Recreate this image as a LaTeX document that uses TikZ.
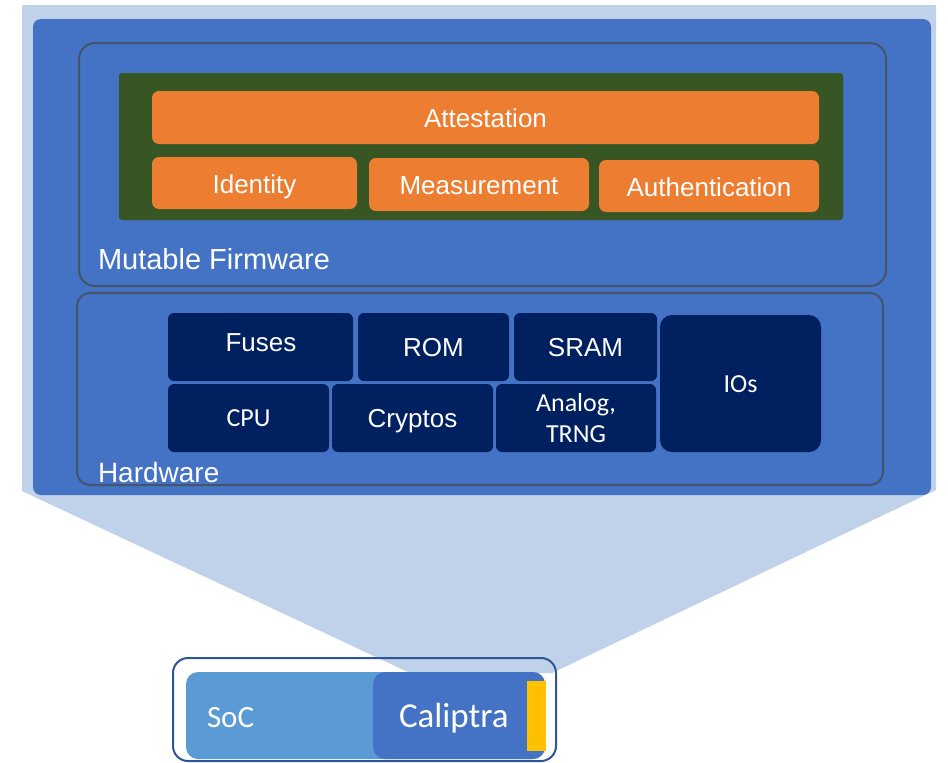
\documentclass[tikz,border=0pt]{standalone}
\usepackage{fontspec}
\setmainfont{Liberation Sans}
\newfontfamily\calibrifont{Carlito}
\definecolor{paleblue}{HTML}{C0D1EA}
\definecolor{midblue}{HTML}{4472C4}
\definecolor{skyblue}{HTML}{5B9BD5}
\definecolor{slategrey}{HTML}{44546A}
\definecolor{frameblue}{HTML}{2F5597}
\definecolor{leafgreen}{HTML}{375623}
\definecolor{fworange}{HTML}{ED7D31}
\definecolor{navy}{HTML}{002060}
\definecolor{amber}{HTML}{FFC000}
\begin{document}
\begin{tikzpicture}[x=1pt,y=-1pt,
  every node/.style={inner sep=0pt, outer sep=0pt},
  panel/.style={rectangle, anchor=north west},
  layerframe/.style={panel, draw=slategrey, line width=2pt},
  fwbox/.style={panel, fill=fworange, rounded corners=7pt, text=white,
    font=\fontsize{26}{31}\selectfont, text height=20pt, text depth=0pt},
  hwbox/.style={panel, fill=navy, rounded corners=6pt, text=white,
    font=\fontsize{26}{31}\selectfont, text height=19.6pt, text depth=0pt},
  hwboxc/.style={hwbox, font=\calibrifont\fontsize{26}{31}\selectfont, text height=17.7pt},
  caption/.style={anchor=base west, text=white}
]
\useasboundingbox (0,0) rectangle (948,763);

% zoom cone from the Caliptra block up to the expanded view
\fill[paleblue] (22,5) -- (936,5) -- (936,490) -- (552,673) -- (410,673) -- (22,491) -- cycle;

% expanded Caliptra view
\node[panel, fill=midblue, rounded corners=8pt, minimum width=898pt, minimum height=476pt] (calview) at (33,19) {};

% firmware layer
\node[layerframe, rounded corners=16pt, minimum width=807pt, minimum height=243pt] (fwlayer) at (79,43) {};
\node[panel, fill=leafgreen, rounded corners=3pt, minimum width=724pt, minimum height=147pt] (fwcore) at (119,73) {};
\node[fwbox, minimum width=667pt, minimum height=53pt] (attest) at (152,91) {Attestation};
\node[fwbox, minimum width=205pt, minimum height=52pt] (identity) at (152,157) {Identity};
\node[fwbox, minimum width=220pt, minimum height=53pt] (measure) at (369,158) {Measurement};
\node[fwbox, minimum width=220pt, minimum height=52pt] (auth) at (599,160) {Authentication};
\node[caption, font=\fontsize{29}{34}\selectfont] (fwlabel) at (98,269) {Mutable Firmware};

% hardware layer
\node[layerframe, rounded corners=13pt, minimum width=806pt, minimum height=192pt] (hwlayer) at (77,293) {};
\node[hwbox, minimum width=185pt, minimum height=68pt] (fuses) at (168,313) {};
\node[text=white, font=\fontsize{26}{31}\selectfont, text height=19.6pt, text depth=0pt] (fusestext) at (261,342) {Fuses};
\node[hwbox, minimum width=151pt, minimum height=68pt] (rom) at (358,313) {ROM};
\node[hwbox, minimum width=143pt, minimum height=68pt] (sram) at (514,313) {SRAM};
\node[hwboxc, rounded corners=12pt, minimum width=161pt, minimum height=137pt] (ios) at (660,315) {IOs};
\node[hwboxc, minimum width=161pt, minimum height=68pt] (cpu) at (168,384) {CPU};
\node[hwbox, minimum width=161pt, minimum height=68pt] (cryptos) at (332,384) {Cryptos};
\node[panel, fill=navy, rounded corners=6pt, minimum width=160pt, minimum height=68pt] (analog) at (496,384) {};
\node[text=white, align=center, font=\calibrifont\fontsize{26}{31}\selectfont] (analogtext) at (analog.center) {Analog,\\TRNG};
\node[caption, font=\fontsize{28}{33}\selectfont] (hwlabel) at (98,482) {Hardware};

% SoC with Caliptra block
\node[panel, draw=frameblue, line width=2pt, rounded corners=15pt, minimum width=383pt, minimum height=103pt] (socframe) at (173,658) {};
\node[panel, fill=skyblue, rounded corners=12pt, minimum width=359pt, minimum height=87pt] (soc) at (186,672) {};
\node[panel, fill=midblue, rounded corners=12pt, minimum width=172pt, minimum height=87pt] (caliptra) at (373,672) {};
\node[panel, fill=amber, minimum width=19pt, minimum height=70pt] (fusebar) at (527,681) {};
\node[caption, font=\calibrifont\fontsize{31}{36}\selectfont] (soclabel) at (207,727) {SoC};
\node[caption, font=\calibrifont\fontsize{35}{40}\selectfont] (caliptralabel) at (399,727) {Caliptra};
\end{tikzpicture}
\end{document}
